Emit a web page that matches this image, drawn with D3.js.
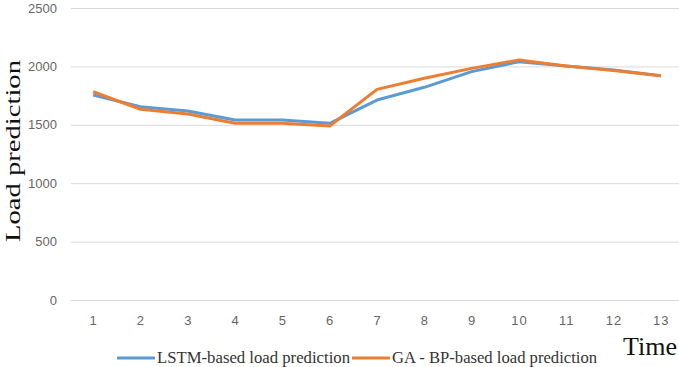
<!DOCTYPE html>
<html lang="en">
    <head>
        <meta charset="utf-8">
        <title>Load prediction</title>
        <style>
            body{
                margin: 0;
                background-color: white;
            }
            svg{
                display: block;
            }
        </style>
        <script src="https://d3js.org/d3.v7.min.js"></script>
    </head>
    <body></body>
    <script>
        let width = 679
        let height = 367

        let times = [1, 2, 3, 4, 5, 6, 7, 8, 9, 10, 11, 12, 13]
        let lstmValues = [1755, 1655, 1618, 1541, 1541, 1513, 1712, 1821, 1955, 2040, 2003, 1969, 1920]
        let gaBpValues = [1783, 1633, 1592, 1513, 1513, 1490, 1803, 1898, 1983, 2055, 2003, 1965, 1920]
        let yTicks = [0, 500, 1000, 1500, 2000, 2500]
        let seriesNames = ["LSTM-based load prediction", "GA - BP-based load prediction"]
        let seriesColors = ["#5b9bd5", "#ed7d31"]

        let svg = d3.select("body")
                    .append("svg")
                    .attr("width", width)
                    .attr("height", height)

        let xScale = d3.scalePoint()
                        .domain(times)
                        .range([69.5, 684.5])
                        .padding(0.5)

        let yScale = d3.scaleLinear()
                        .domain([0, 2500])
                        .range([300, 8])

        // gridlines + y labels
        let yAxis = d3.axisLeft(yScale)
                        .tickValues(yTicks)
                        .tickFormat(d3.format("d"))
                        .tickSize(-(width - 71))
                        .tickPadding(14)

        svg.append("g")
            .attr("transform", "translate(71, 0)")
            .call(yAxis)
            .call(g => g.select(".domain").remove())
            .call(g => g.selectAll("line").attr("stroke", "#d9d9d9"))
            .call(g => g.selectAll("text")
                .attr("fill", "#666")
                .attr("font-family", "Liberation Sans, Arial, sans-serif")
                .attr("font-size", 13))

        let xAxis = d3.axisBottom(xScale).tickSize(0).tickPadding(16)

        svg.append("g")
            .attr("transform", "translate(0, 300)")
            .call(xAxis)
            .call(g => g.select(".domain").remove())
            .call(g => g.selectAll("text")
                .attr("fill", "#666")
                .attr("font-family", "Liberation Sans, Arial, sans-serif")
                .attr("font-size", 13)
                .attr("letter-spacing", 1))

        let line = d3.line()
                    .x((d, i) => xScale(times[i]))
                    .y(d => yScale(d))

        let allSeries = [lstmValues, gaBpValues]
        allSeries.forEach((values, i) => {
            svg.append("path")
                .datum(values)
                .attr("d", line)
                .attr("fill", "none")
                .attr("stroke", seriesColors[i])
                .attr("stroke-width", 3)
                .attr("stroke-linejoin", "round")
        })

        // axis titles
        svg.append("text")
            .attr("transform", "translate(20, 151) rotate(-90)")
            .attr("text-anchor", "middle")
            .attr("font-family", "Liberation Serif, Times New Roman, serif")
            .attr("font-size", 21)
            .attr("textLength", 182)
            .attr("lengthAdjust", "spacingAndGlyphs")
            .attr("fill", "#111")
            .text("Load prediction")

        svg.append("text")
            .attr("x", 650)
            .attr("y", 355)
            .attr("text-anchor", "middle")
            .attr("font-family", "Liberation Serif, Times New Roman, serif")
            .attr("font-size", 26)
            .attr("fill", "#111")
            .text("Time")

        // legend
        let legendX = [117, 352]
        let legendW = [193, 205]
        seriesNames.forEach((name, i) => {
            let g = svg.append("g").attr("transform", `translate(${legendX[i]}, 358)`)
            g.append("line")
                .attr("x1", 0)
                .attr("x2", 38)
                .attr("stroke", seriesColors[i])
                .attr("stroke-width", 3)
            g.append("text")
                .attr("x", 40)
                .attr("y", 5)
                .attr("font-family", "Liberation Serif, Times New Roman, serif")
                .attr("font-size", 16)
                .attr("textLength", legendW[i])
                .attr("lengthAdjust", "spacingAndGlyphs")
                .attr("fill", "#333")
                .text(name)
        })
    </script>
</html>
